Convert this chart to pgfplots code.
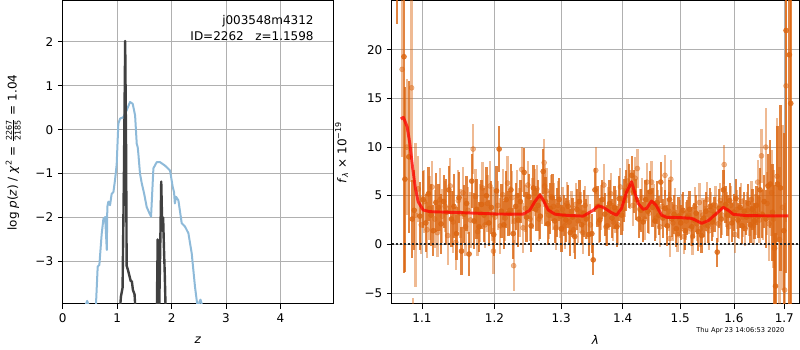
\documentclass[border=0pt]{standalone}
\usepackage{fontspec}
\setmainfont{DejaVu Sans}
\usepackage{pgfplots}
\pgfplotsset{compat=1.18}
\usepackage{pgfplotstable}
\definecolor{pzblue}{HTML}{8EBAD9}
\definecolor{pzdark}{HTML}{404040}
\definecolor{orng}{HTML}{DB6510}
\definecolor{gridc}{HTML}{B0B0B0}

\pgfplotstableread{
x y e
1.0676 30.0 7.3
1.0764 19.3 22.2
1.0777 6.7 9.5
1.0827 9.0 7.8
1.0872 2.6 4.0
1.0897 3.5 4.1
1.0972 2.9 3.5
1.1015 4.6 2.9
1.1050 2.2 3.0
1.1085 5.2 2.8
1.1120 3.0 3.2
1.1150 1.4 2.6
1.1185 4.3 3.0
1.1220 3.8 2.4
1.1255 2.1 3.1
1.1290 4.4 2.7
1.1325 3.3 3.4
1.1360 5.6 2.5
1.1395 2.6 2.9
1.1430 3.9 3.3
1.1465 1.1 2.7
1.1500 4.8 2.6
1.1535 -0.7 2.5
1.1570 3.1 3.0
1.1605 4.2 2.8
1.1640 -1.0 2.3
1.1677 6.5 2.8
1.1710 2.4 2.9
1.1745 3.6 3.1
1.1780 1.8 2.6
1.1815 4.1 2.5
1.1850 3.0 2.8
1.1885 5.0 3.0
1.1920 2.2 2.4
1.1955 3.8 2.7
1.1990 1.0 2.2
1.2030 5.5 2.6
1.2068 9.8 2.4
1.2100 3.4 2.8
1.2135 2.0 2.5
1.2170 4.6 2.9
1.2205 3.2 2.3
1.2240 5.6 2.7
1.2273 1.1 2.6
1.2310 3.9 2.4
1.2345 2.5 2.8
1.2380 4.4 2.2
1.2436 7.4 2.5
1.2470 2.8 2.6
1.2505 4.9 2.3
1.2540 1.9 2.7
1.2575 5.8 2.4
1.2610 3.6 2.2
1.2645 4.0 2.6
1.2680 2.9 2.4
1.2724 7.5 2.3
1.2760 4.4 2.5
1.2795 2.1 2.2
1.2830 3.7 2.6
1.2865 4.8 2.4
1.2900 2.4 2.3
1.2935 3.3 2.5
1.2970 4.6 2.2
1.3005 1.6 2.4
1.3040 3.0 2.1
1.3075 2.5 2.3
1.3110 3.9 2.2
1.3145 1.2 2.4
1.3180 2.8 2.0
1.3215 0.8 2.3
1.3250 3.6 2.1
1.3290 4.4 2.2
1.3325 2.0 2.0
1.3360 3.2 2.4
1.3400 2.6 2.1
1.3440 1.0 2.2
1.3490 1.1 2.0
1.3512 -1.6 1.6
1.3540 5.6 2.3
1.3580 3.9 2.1
1.3620 2.5 2.3
1.3660 4.6 2.0
1.3700 3.1 2.2
1.3740 1.9 2.1
1.3780 4.2 2.4
1.3820 2.7 2.0
1.3860 3.8 2.2
1.3900 1.8 2.1
1.3940 4.7 2.3
1.3980 3.0 2.0
1.4020 4.5 2.2
1.4060 5.5 2.1
1.4100 6.0 2.3
1.4150 7.1 2.0
1.4190 5.4 2.2
1.4230 4.6 2.1
1.4270 2.6 2.0
1.4310 3.5 2.2
1.4350 2.3 2.1
1.4390 4.6 2.0
1.4430 3.4 2.2
1.4470 5.4 2.1
1.4510 3.8 2.0
1.4550 2.4 2.1
1.4590 4.3 2.2
1.4620 3.0 2.0
1.4654 6.4 2.1
1.4690 2.7 2.0
1.4730 3.7 1.9
1.4770 1.9 2.1
1.4810 4.6 2.0
1.4850 2.6 1.8
1.4890 3.1 2.0
1.4930 1.6 1.9
1.4970 2.9 2.0
1.5010 2.2 1.8
1.5050 3.5 1.9
1.5090 1.4 2.0
1.5130 2.8 1.8
1.5170 3.6 1.9
1.5210 1.8 2.0
1.5250 2.5 1.8
1.5290 3.2 1.9
1.5330 1.3 2.0
1.5391 0.9 1.8
1.5430 2.7 1.9
1.5470 3.4 2.0
1.5510 1.9 1.8
1.5550 3.9 1.9
1.5590 2.3 2.0
1.5630 3.1 1.8
1.5683 -0.8 1.5
1.5720 3.7 2.0
1.5760 2.6 1.9
1.5800 5.6 2.0
1.5840 4.1 1.9
1.5880 3.0 2.1
1.5920 4.5 1.8
1.5960 2.2 2.0
1.6000 3.3 1.9
1.6040 4.7 2.0
1.6080 2.5 1.8
1.6120 3.8 2.1
1.6160 1.9 1.9
1.6200 3.4 2.0
1.6240 2.8 1.8
1.6280 4.2 2.0
1.6320 2.0 1.9
1.6360 3.6 2.1
1.6400 2.4 1.9
1.6440 4.0 2.0
1.6480 2.9 2.2
1.6510 5.6 2.3
1.6550 3.1 2.5
1.6590 4.4 2.7
1.6630 2.6 3.0
1.6670 6.0 3.3
1.6716 6.2 4.5
1.6760 3.3 5.0
1.6801 -0.4 6.5
1.6820 -4.3 5.5
1.6860 6.2 6.0
1.6920 5.8 8.5
1.6988 1.4 10.0
1.7034 22.0 25.0
1.7103 19.5 30.0
1.7131 14.5 30.0
}\darkdata

\pgfplotstableread{
x y e
1.0740 18.0 9.0
1.0800 10.0 7.0
1.0863 16.1 9.7
1.0880 -9.0 3.5
1.0915 3.0 7.4
1.0950 5.7 3.4
1.0990 2.0 3.0
1.1030 4.4 3.2
1.1068 1.5 2.9
1.1100 3.7 3.3
1.1135 5.9 2.7
1.1170 2.6 3.0
1.1205 1.2 2.5
1.1240 4.6 3.2
1.1272 2.9 2.8
1.1310 3.9 2.6
1.1345 0.9 3.0
1.1380 6.0 2.9
1.1420 2.3 3.2
1.1456 0.2 2.8
1.1490 4.5 3.1
1.1520 3.2 2.5
1.1555 5.3 2.7
1.1590 1.8 3.0
1.1625 3.5 2.4
1.1660 2.5 2.9
1.1697 9.8 2.6
1.1730 4.9 2.8
1.1760 1.3 2.5
1.1795 3.2 3.0
1.1830 5.8 2.7
1.1865 2.0 2.4
1.1900 4.2 2.9
1.1935 6.0 2.6
1.1970 3.1 2.8
1.1985 -0.7 2.4
1.2010 2.8 2.7
1.2050 4.0 2.5
1.2085 1.9 2.9
1.2120 5.1 2.6
1.2155 2.7 2.4
1.2190 6.3 2.8
1.2225 3.5 2.5
1.2255 4.8 2.7
1.2280 -2.2 2.6
1.2295 2.4 2.4
1.2330 5.0 2.6
1.2365 3.3 2.5
1.2400 7.7 2.3
1.2420 1.7 2.6
1.2455 3.7 2.4
1.2490 6.1 2.5
1.2525 2.6 2.3
1.2560 4.2 2.6
1.2595 5.3 2.4
1.2628 5.7 2.5
1.2660 2.6 2.3
1.2700 4.7 2.6
1.2738 8.4 2.4
1.2745 6.0 2.2
1.2775 5.5 2.4
1.2810 3.0 2.5
1.2848 4.9 2.2
1.2882 3.9 2.4
1.2918 1.7 2.3
1.2952 4.0 2.5
1.2988 2.9 2.2
1.3022 3.6 2.3
1.3058 1.9 2.4
1.3092 4.2 2.2
1.3128 2.3 2.3
1.3162 3.4 2.1
1.3198 1.5 2.4
1.3232 4.1 2.2
1.3270 2.4 2.3
1.3308 3.3 2.1
1.3342 1.2 2.2
1.3380 4.0 2.0
1.3420 2.8 2.3
1.3465 2.0 2.1
1.3553 7.6 2.4
1.3600 2.2 2.1
1.3640 3.8 2.3
1.3686 6.1 2.2
1.3720 1.8 2.0
1.3760 3.7 2.2
1.3800 5.2 2.1
1.3840 2.3 2.0
1.3880 3.4 2.2
1.3920 2.0 2.1
1.3960 5.9 2.0
1.4000 3.6 2.2
1.4040 4.9 2.1
1.4080 6.5 2.3
1.4125 5.6 2.0
1.4170 4.0 2.1
1.4210 6.8 2.2
1.4248 7.8 2.0
1.4290 3.6 2.1
1.4330 4.8 2.0
1.4370 2.6 2.2
1.4410 6.4 2.0
1.4450 3.2 2.1
1.4494 6.4 2.2
1.4530 4.2 2.0
1.4570 2.7 2.1
1.4605 3.6 2.0
1.4640 1.8 2.1
1.4680 3.9 2.0
1.4728 7.1 2.1
1.4760 2.9 1.9
1.4800 3.4 2.0
1.4816 0.6 1.9
1.4833 6.7 2.0
1.4870 2.2 1.9
1.4910 3.8 2.0
1.4950 1.0 1.8
1.4990 2.6 2.0
1.5030 3.3 1.9
1.5070 0.8 1.8
1.5110 2.4 2.0
1.5150 3.0 1.9
1.5190 1.6 1.8
1.5225 0.8 1.9
1.5265 3.9 2.0
1.5305 2.1 1.8
1.5350 4.3 2.0
1.5370 1.6 1.9
1.5410 3.0 1.8
1.5450 2.0 1.9
1.5490 4.6 1.8
1.5530 1.4 2.0
1.5570 3.5 1.9
1.5610 2.6 1.8
1.5650 4.0 2.0
1.5700 2.1 1.9
1.5740 4.5 1.8
1.5780 3.0 2.0
1.5815 8.2 2.0
1.5860 3.6 1.8
1.5900 1.8 1.9
1.5940 4.0 2.0
1.5980 2.6 1.8
1.6020 1.0 1.9
1.6060 3.6 2.0
1.6100 2.3 1.8
1.6140 4.4 1.9
1.6180 2.8 2.0
1.6220 1.6 1.8
1.6260 3.5 1.9
1.6300 2.9 2.0
1.6340 4.6 1.9
1.6380 1.9 2.0
1.6420 3.1 2.1
1.6463 6.4 2.3
1.6500 2.5 2.4
1.6539 9.1 2.8
1.6570 3.0 2.6
1.6625 10.0 4.0
1.6650 4.2 3.2
1.6690 2.1 3.8
1.6740 5.3 4.4
1.6780 2.6 5.0
1.6850 7.0 6.0
1.6900 0.5 7.5
1.6960 3.8 8.5
1.7005 -4.7 9.0
1.7034 16.3 14.0
}\lightdata

\pgfplotsset{
  mpl/.style={
    scale only axis,
    grid=major,
    grid style={gridc, line width=0.6pt},
    axis line style={line width=0.75pt},
    tick align=outside,
    tick pos=left,
    major tick length=3.6pt,
    major tick style={black, line width=0.6pt},
    tick label style={font=\fontsize{9}{11}\selectfont},
    label style={font=\fontsize{9}{11}\selectfont},
    minor tick num=0,
  }
}

\begin{document}
\begin{tikzpicture}
\path[use as bounding box] (0,0) rectangle (600pt,262.5pt);

\begin{axis}[mpl,
  at={(47.0pt,34.5pt)}, anchor=south west,
  width=203pt, height=227.25pt,
  xmin=0, xmax=4.97, ymin=-3.97, ymax=2.93,
  xtick={0,1,2,3,4}, xticklabels={0,1,2,3,4},
  ytick={-3,-2,-1,0,1,2}, yticklabels={−3,−2,−1,0,1,2},
  xlabel={\textit{z}},
  xlabel style={at={(axis description cs:0.5,0)}, anchor=center, yshift=-27pt},
  ylabel={log \textit{p}(\textit{z}) / \textit{χ}\textsuperscript{2} = $\frac{\mbox{\fontsize{6}{6}\selectfont 2267}}{\mbox{\fontsize{6}{6}\selectfont 2185}}$ = 1.04},
  ylabel style={at={(axis description cs:-0.1826,0.5)}, anchor=center},
]
\addplot[pzblue, line width=1.5pt, line join=round] coordinates {
(0.38,-4.6) (0.42,-4.0) (0.45,-3.9) (0.48,-4.0) (0.52,-4.6) (0.58,-4.6)
(0.612,-3.97) (0.643,-3.12) (0.674,-3.08) (0.716,-2.38) (0.748,-2.03) (0.78,-1.99)
(0.796,-2.38) (0.81,-2.74) (0.82,-1.76) (0.839,-1.64) (0.87,-1.72) (0.9,-1.46)
(0.932,-1.42) (0.961,-1.15) (0.992,-0.79) (1.022,0.135) (1.053,0.25) (1.114,0.285)
(1.175,0.44) (1.237,0.63) (1.286,0.59) (1.33,0.325) (1.36,-0.32) (1.378,-0.4)
(1.39,-0.55) (1.42,-1.0) (1.452,-1.22) (1.495,-1.45) (1.543,-1.76) (1.592,-1.9)
(1.623,-1.98) (1.666,-0.88) (1.727,-0.74) (1.788,-0.74) (1.88,-0.82) (1.972,-0.93)
(2.02,-1.30) (2.045,-1.42) (2.06,-1.68) (2.082,-1.53) (2.125,-1.61) (2.186,-2.13)
(2.248,-2.21) (2.309,-2.36) (2.37,-2.82) (2.43,-3.58) (2.47,-3.97) (2.49,-4.1)
(2.51,-3.92) (2.53,-3.87) (2.55,-3.95) (2.57,-4.6)
};
\addplot[pzdark, line width=1.8pt, line join=round] coordinates {
(1.02,-4.6) (1.07,-3.8) (1.10,-3.6) (1.125,-1.0) (1.148,2.02) (1.165,-0.5)
(1.175,-3.1) (1.2,-3.2) (1.23,-3.35) (1.25,-3.45) (1.27,-3.45) (1.29,-3.65)
(1.32,-3.75) (1.36,-4.6)
};
\addplot[pzdark, line width=1.8pt, line join=round] coordinates {
(1.725,-4.6) (1.745,-2.5) (1.765,-4.6) (1.785,-3.2) (1.81,-1.18) (1.83,-2.3)
(1.845,-2.0) (1.86,-2.7) (1.875,-3.3) (1.9,-4.6)
};
\node[anchor=base east, font=\fontsize{9}{11}\selectfont] at (rel axis cs:0.9446,0.921) {j003548m4312};
\node[anchor=base east, font=\fontsize{9}{11}\selectfont] at (rel axis cs:0.9446,0.868) {ID=2262\ \ \ z=1.1598};
\end{axis}

\begin{axis}[mpl,
  at={(293.8pt,34.5pt)}, anchor=south west,
  width=305.7pt, height=227.25pt,
  clip marker paths=true,
  xmode=log,
  xmin=1.0607, xmax=1.731, ymin=-6.14, ymax=25.03,
  xtick={1.1,1.2,1.3,1.4,1.5,1.6,1.7}, xticklabels={1.1,1.2,1.3,1.4,1.5,1.6,1.7},
  minor xtick={},
  ytick={-5,0,5,10,15,20}, yticklabels={−5,0,5,10,15,20},
  xlabel={\textit{λ}},
  xlabel style={at={(axis description cs:0.5,0)}, anchor=center, yshift=-27pt},
  ylabel={\textit{f}\textsubscript{\textit{λ}} × 10\textsuperscript{−19}},
  ylabel style={at={(axis description cs:-0.1227,0.5)}, anchor=center},
]
\addplot[orng, opacity=0.45, only marks, mark=*, mark size=1.9pt,
  mark options={solid, draw=none, fill=orng},
  error bars/y dir=both, error bars/y explicit, error bars/error mark=none,
  error bars/error bar style={line width=1.7pt, draw=orng, opacity=0.45}]
  table[x=x, y=y, y error=e] {\lightdata};
\addplot[orng, opacity=0.8, only marks, mark=*, mark size=1.9pt,
  mark options={solid, draw=none, fill=orng},
  error bars/y dir=both, error bars/y explicit, error bars/error mark=none,
  error bars/error bar style={line width=1.7pt, draw=orng, opacity=0.8}]
  table[x=x, y=y, y error=e] {\darkdata};
\addplot[black!85, line width=1.5pt, dash pattern=on 1.5pt off 1.5pt] coordinates {(1.0607,0) (1.731,0)};
\addplot[red, opacity=0.75, line width=2.2pt, line join=round] coordinates {
(1.0723,12.9) (1.0757,13.06) (1.0805,12.1) (1.084,10.4) (1.0875,8.0) (1.091,5.9)
(1.0949,4.38) (1.1015,3.53) (1.1103,3.36) (1.1561,3.25) (1.203,3.12) (1.242,3.1)
(1.252,3.5) (1.2597,4.4) (1.2673,5.07) (1.2724,4.56) (1.28,3.53) (1.2903,3.1)
(1.3033,3.0) (1.335,2.9) (1.3512,3.5) (1.3593,3.97) (1.3675,3.8) (1.3814,3.25)
(1.3897,3.0) (1.398,3.7) (1.4065,5.4) (1.415,6.44) (1.4206,5.25) (1.4263,4.2)
(1.4349,3.6) (1.4407,3.7) (1.4494,4.45) (1.4569,4.04) (1.467,3.0) (1.4757,2.78)
(1.4995,2.75) (1.5207,2.67) (1.5298,2.43) (1.5391,2.16) (1.5514,2.43) (1.5673,3.19)
(1.5797,3.8) (1.5892,3.5) (1.5988,3.08) (1.6247,2.95) (1.708,2.92)
};
\end{axis}

\node[anchor=east, font=\fontsize{5}{6}\selectfont] at (591.75pt,14.25pt) {Thu Apr 23 14:06:53 2020};
\end{tikzpicture}
\end{document}
